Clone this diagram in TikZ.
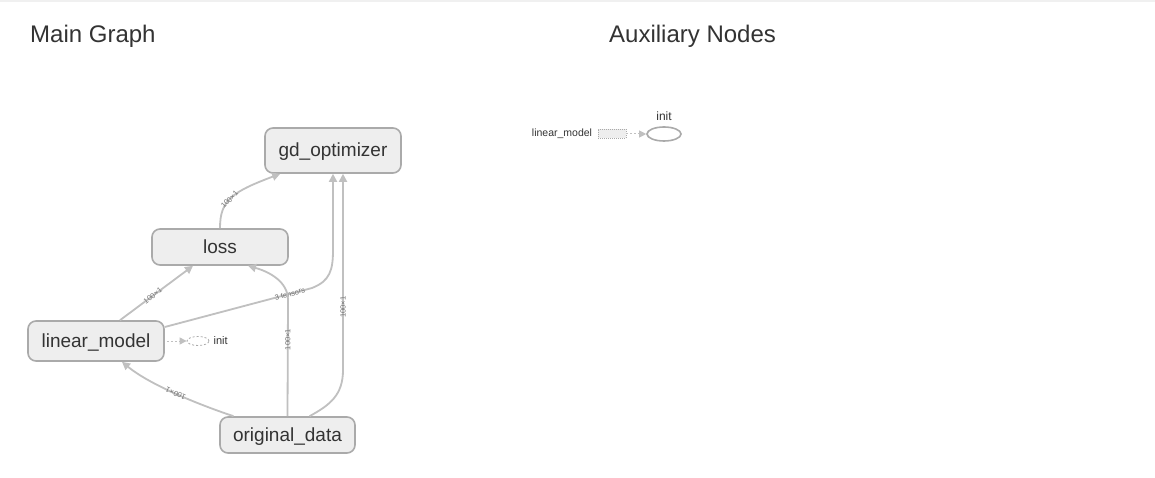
\documentclass[tikz,border=0pt]{standalone}
\usepackage{fontspec}
\setmainfont{Liberation Sans}
\usepackage{tikz}
\usetikzlibrary{arrows.meta, positioning, shapes.geometric}
\usepackage{xcolor}
\definecolor{opfill}{RGB}{238, 238, 238}
\definecolor{opline}{RGB}{170, 170, 170}
\definecolor{edgegray}{RGB}{192, 192, 192}
\definecolor{textgray}{RGB}{51, 51, 51}

\begin{document}
\begin{tikzpicture}[x=1pt, y=-1pt,
                opnode/.style={draw=opline, line width=1.6pt, rounded corners=8pt, fill=opfill,
                    minimum width=136pt, minimum height=36pt, inner sep=0pt,
                    text height=13pt, text depth=1pt,
                    text=textgray, font=\fontsize{19}{19}\selectfont},
                title/.style={anchor=base west, inner sep=0pt, text=textgray,
                    font=\fontsize{24}{24}\selectfont},
                smalltxt/.style={inner sep=0pt, text=textgray, font=\fontsize{11}{11}\selectfont},
                lbl/.style={inner sep=0pt, sloped, allow upside down, text=black!55,
                    font=\fontsize{7.5}{7.5}\selectfont},
                flow/.style={-{Triangle[length=8pt, width=8pt]}, draw=edgegray, line width=1.8pt},
                dep/.style={-{Triangle[length=7pt, width=7pt]}, draw=edgegray, line width=1pt,
                    dash pattern=on 2pt off 2pt}
            ]
                \fill[white] (0,0) rectangle (1155,478);
                \useasboundingbox (0,0) rectangle (1155,478);
                \draw[line width=2pt, color=black!6] (0,1) -- (1155,1);
                \node[title] (maintitle) at (30,43) {Main Graph};
                \node[title] (auxtitle)  at (609,43) {Auxiliary Nodes};

                \node[opnode, minimum height=45pt] (gd) at (333,150.5) {gd\_optimizer};
                \node[opnode] (loss) at (220,247) {loss};
                \node[opnode, minimum height=40pt] (lin) at (96,341) {linear\_model};
                \node[opnode, minimum width=135pt] (data) at (287.5,435) {original\_data};
                \node[ellipse, draw=opline, dash pattern=on 2pt off 2pt, line width=0.8pt,
                    minimum width=22pt, minimum height=9pt, inner sep=0pt] (init) at (198,341) {};
                \node[smalltxt, right=4pt of init] (initlbl) {init};

                \draw[flow] (loss.north) .. controls (220,200) and (232,192) .. ([xshift=16pt]gd.south west)
                    node[lbl, pos=0.45] {100×1};
                \draw[flow] ([xshift=24pt]lin.north) -- ([xshift=-27pt]loss.south)
                    node[lbl, pos=0.45] {100×1};
                \draw[flow] ([yshift=14pt]lin.east) -- (312,288)
                    node[lbl, pos=0.85] {3 tensors}
                    .. controls (330,281) and (333,270) .. (333,250) -- (gd.south);
                \draw[flow] (data.north) -- (288,300)
                    node[lbl, pos=0.66] {100×1}
                    .. controls (288,282) and (270,272) .. ([xshift=28pt]loss.south);
                \draw[flow] ([xshift=22pt]data.north) .. controls (330,405) and (343,395) .. (343,370)
                    -- ([xshift=10pt]gd.south) node[lbl, pos=0.32] {100×1};
                \draw[flow] ([xshift=-54pt]data.north) .. controls (200,405) and (150,385) .. ([xshift=26pt]lin.south)
                    node[lbl, pos=0.5] {100×1};
                \draw[dep] ([xshift=2pt]lin.east) -- (init.west);

                \node[smalltxt, font=\fontsize{10.5}{10.5}\selectfont] (auxlin) at (562,134) {linear\_model};
                \node[draw=opline, dash pattern=on 1pt off 1pt, line width=0.8pt, fill=opfill,
                    minimum width=28pt, minimum height=9pt, inner sep=0pt] (auxbox) at (612,134) {};
                \node[ellipse, draw=opline, line width=1.6pt, fill=white,
                    minimum width=34pt, minimum height=14pt, inner sep=0pt] (auxinit) at (664,134) {};
                \node[smalltxt, font=\fontsize{12}{12}\selectfont, above=5pt of auxinit] (auxinitlbl) {init};
                \draw[dep] (auxbox) -- (auxinit);
            \end{tikzpicture}
\end{document}
